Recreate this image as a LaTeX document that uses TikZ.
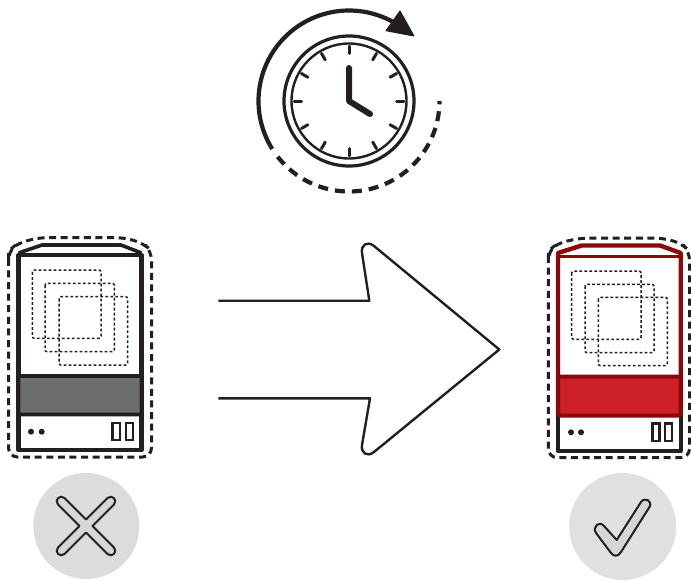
\documentclass[tikz,border=0pt]{standalone}
\definecolor{ink}{HTML}{231F20}
\definecolor{panelgray}{HTML}{6D6E70}
\definecolor{darkred}{HTML}{8A0A0C}
\definecolor{brightred}{HTML}{CD2027}
\definecolor{discA}{HTML}{DCDCDC}
\definecolor{discB}{HTML}{DFE0E2}
\definecolor{shadeA}{HTML}{D6D6D6}
\tikzset{
  x=1pt,y=-1pt,
  frame/.style={draw=ink,line width=4.4pt,line join=round},
  outline/.style={draw=ink,line width=3pt,dash pattern=on 7pt off 4.6pt,rounded corners=9pt},
  dotbox/.style={draw=ink,line width=1.5pt,dash pattern=on 2.8pt off 2.2pt,rounded corners=2pt},
  slot/.style={draw=ink,line width=2.2pt,fill=white},
  tick/.style={draw=ink,line width=3pt,line cap=round},
  hand/.style={draw=ink,line width=6pt,line cap=round,line join=round},
  glyph/.style={draw=ink,line width=2pt,shade,shading angle=45,left color=shadeA,middle color=white,right color=shadeA},
}
\begin{document}
\begin{tikzpicture}
\useasboundingbox (0,0) rectangle (691,581);
\fill[white] (0,0) rectangle (691,581);

% clock
\draw[draw=ink,line width=3.2pt] (349,101) circle[radius=65];
\draw[draw=ink,line width=2.4pt] (349,101) circle[radius=57.5];
\foreach \a in {0,30,...,330}{
  \draw[tick] ({349+55*cos(\a)},{101-55*sin(\a)}) -- ({349+47.5*cos(\a)},{101-47.5*sin(\a)});
}
\draw[hand] (349,68) -- (349,101) -- (370,114);
\draw[draw=ink,line width=4.2pt] plot[domain=212:61,samples=90] ({349+90.5*cos(\x)},{101-90.5*sin(\x)});
\draw[draw=ink,line width=4.2pt,dash pattern=on 10pt off 7pt] plot[domain=218:360,samples=120] ({349+90.5*cos(\x)},{101-90.5*sin(\x)});
\fill[ink,draw=ink,line width=1pt,line join=round] (400,11) -- (414,36) -- (386,30.7) -- cycle;

% left device
\fill[white] (18.5,256) rectangle (141.5,450);
\draw[outline] (8.5,262) -- (8.5,251) -- (18,243) -- (40,237.5) -- (123,237.5) -- (143,243) -- (151.5,251) -- (151.5,457) -- (8.5,457) -- cycle;
\draw[draw=ink,line width=3.6pt,line join=round] (18.5,253) -- (42,245) -- (121,245) -- (141.5,253);
\draw[frame] (18.5,255) rectangle (141.5,450);
\draw[draw=ink,line width=3.6pt,fill=panelgray,rounded corners=2pt] (18.5,376) rectangle (141.5,414.5);
\draw[dotbox] (32.3,270) rectangle (101,338.3);
\draw[dotbox] (45,283.3) rectangle (114.3,351.7);
\draw[dotbox] (59,296.7) rectangle (127.7,365);
\fill[ink] (31,431.7) circle[radius=3] (41.7,431.7) circle[radius=3];
\draw[slot] (112.5,423) rectangle (120,440);
\draw[slot] (126,423) rectangle (133.3,440);

% arrow
\draw[draw=ink,line width=2.4pt,line join=round] (218.3,300.7) -- (369.3,300.7) -- (362,253)
  .. controls (360.8,245) and (367,240.5) .. (374,246) -- (499.3,349.5) -- (374,452)
  .. controls (367,457.5) and (360.8,453) .. (362,445) -- (370,398.3) -- (218.3,398.3);

% right device
\fill[white] (558,256) rectangle (680.7,450.5);
\draw[outline] (548.3,262) -- (548.3,251) -- (558,243) -- (581,238) -- (662,238) -- (681,243) -- (689.5,251) -- (689.5,457.7) -- (548.3,457.7) -- cycle;
\draw[draw=ink,line width=4.4pt,line join=round] (558,410) -- (558,450.7) -- (680.7,450.7) -- (680.7,410);
\draw[draw=darkred,line width=4.4pt,line join=round] (558,413) -- (558,253) -- (581.7,245.5) -- (660,245.5) -- (680.7,253) -- (680.7,413);
\draw[draw=darkred,line width=3.2pt] (558,256.5) -- (680.7,256.5);
\draw[draw=darkred,line width=4pt,fill=brightred,rounded corners=2.5pt] (558,376.5) rectangle (680.7,415.5);
\draw[dotbox] (571.7,271) rectangle (641,339.3);
\draw[dotbox] (585,284.3) rectangle (654,352.7);
\draw[dotbox] (598.3,297.3) rectangle (667.3,365.7);
\fill[ink] (571,432.3) circle[radius=3] (581,432.3) circle[radius=3];
\draw[slot] (652.5,423.5) rectangle (659.5,441);
\draw[slot] (665,423.5) rectangle (672.3,441);

% verdict discs
\fill[discA] (86.3,526) circle[radius=53];
\fill[discB] (622.7,526.5) circle[radius=53.5];
\draw[glyph,line join=round]
  (86,519.5) -- (64.5,498) .. controls (60,494) and (54,500) .. (58,504.5) -- (79.5,526)
  -- (58,547.5) .. controls (54,552) and (60,558) .. (64.5,554) -- (86,532.5)
  -- (107.5,554) .. controls (112,558) and (118,552) .. (114,547.5) -- (92.5,526)
  -- (114,504.5) .. controls (118,500) and (112,494) .. (107.5,498) -- cycle;
\draw[glyph,line join=round]
  (616.7,540) -- (641,502) .. controls (644.5,496.5) and (653,501) .. (649.5,507)
  -- (621,552) .. controls (618,557) and (614,556.5) .. (611,553)
  -- (596,533) .. controls (592,527) and (599,520) .. (604,526) -- cycle;
\end{tikzpicture}
\end{document}
